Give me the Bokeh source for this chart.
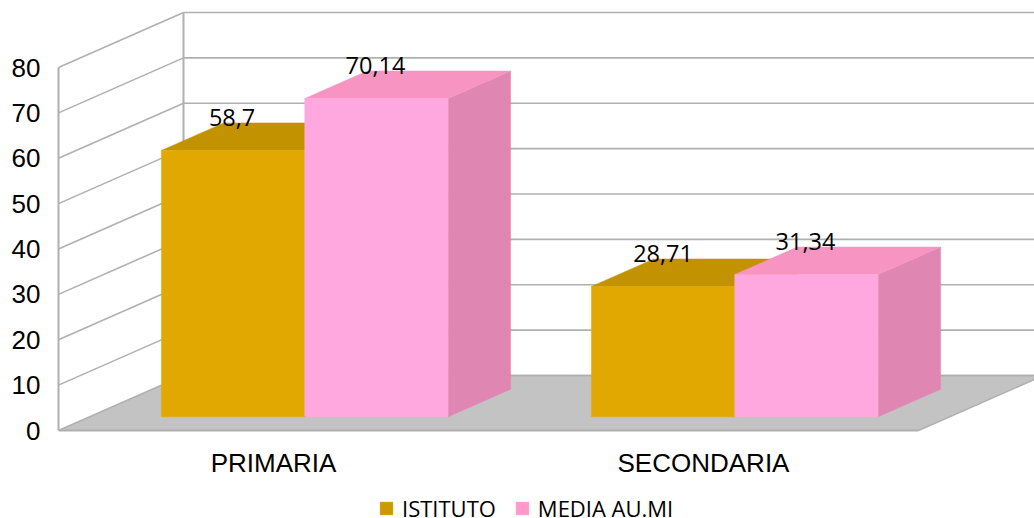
from bokeh.plotting import figure
from bokeh.models import Range1d, FixedTicker, Legend, LegendItem
from bokeh.core.properties import value
from bokeh.embed import file_html
from bokeh.resources import INLINE

categories = ["PRIMARIA", "SECONDARIA"]
series_names = ["ISTITUTO", "MEDIA AU.MI"]
istituto = [58.7, 28.71]
media = [70.14, 31.34]
label_texts = [["58,7", "28,71"], ["70,14", "31,34"]]
y_ticks = [0, 10, 20, 30, 40, 50, 60, 70, 80]

# style
front = ["#E0A800", "#FFA8E0"]
top_c = ["#C39200", "#F794C2"]
side_c = ["#A88000", "#E086B3"]
swatch = ["#CC9900", "#FF99CC"]
GRID = "#B0B0B0"
FLOOR = "#C3C3C3"
DX, DY = 125 / 430, 55 / 4.5375   # depth of the box, in data units
X_END = 976 / 430
Y_END = 430 / 4.5375
Y_START = -88 / 4.5375            # room below the floor for category labels and legend

p = figure(width=1034, height=518,
           output_backend="svg", toolbar_location=None,
           x_range=Range1d(0, X_END), y_range=Range1d(Y_START, Y_END),
           min_border_left=58, min_border_right=0, min_border_top=0, min_border_bottom=0,
           outline_line_color=None, background_fill_color=None, border_fill_color=None)
p.grid.visible = False

# y axis
ya = p.yaxis[0]
ya.ticker = FixedTicker(ticks=y_ticks)
ya.bounds = (0, 80)
ya.axis_line_color = GRID
ya.axis_line_width = 2
ya.major_tick_line_color = None
ya.minor_tick_line_color = None
ya.major_label_standoff = 12
ya.major_label_text_font = "Liberation Sans"
ya.major_label_text_font_size = "26px"
ya.major_label_text_color = "#000000"

# x axis, pinned to the value 0
xa = p.xaxis[0]
xa.fixed_location = 0
xa.ticker = FixedTicker(ticks=[0.5, 1.5])
xa.major_label_overrides = {0.5: categories[0], 1.5: categories[1]}
xa.bounds = (0, 2)
xa.axis_line_color = GRID
xa.axis_line_width = 2
xa.major_tick_line_color = None
xa.minor_tick_line_color = None
xa.major_label_standoff = 11
xa.major_label_text_font = "Liberation Sans"
xa.major_label_text_font_size = "26px"
xa.major_label_text_color = "#000000"

# floor
n = len(categories)
p.patch([0, n, n + DX, DX], [0, 0, DY, DY], fill_color=FLOOR, line_color=None)
p.line([DX, n + DX], [DY, DY], line_color=GRID, line_width=1.5)
p.line([n, n + DX], [0, DY], line_color=GRID, line_width=1.5)

# walls
for t in y_ticks:
    p.line([0, DX], [t, t + DY], line_color=GRID, line_width=1.6)
    p.line([DX, X_END], [t + DY, t + DY], line_color=GRID, line_width=1.6)
p.line([DX, DX], [DY, 80 + DY], line_color=GRID, line_width=2)

# bars
Z0, Z1 = 0.25, 0.75
BW = 1 / 3
lab_x, lab_y, lab_t = [], [], []
nudge = [[-1 / 430, 0 / 430], [-1 / 430, -1 / 430]]
for c in range(n):
    for s, vals in enumerate([istituto, media]):
        v = vals[c]
        x0 = c + 1 / 6 + s * BW + Z0 * DX
        x1 = x0 + BW
        y0 = Z0 * DY
        y1 = v + y0
        ddx = (Z1 - Z0) * DX
        ddy = (Z1 - Z0) * DY
        p.patch([x1, x1 + ddx, x1 + ddx, x1], [y0, y0 + ddy, y1 + ddy, y1],
                fill_color=side_c[s], line_color=side_c[s], line_width=0.5)
        p.patch([x0, x1, x1 + ddx, x0 + ddx], [y1, y1, y1 + ddy, y1 + ddy],
                fill_color=top_c[s], line_color=top_c[s], line_width=0.5)
        p.quad(left=x0, right=x1, bottom=y0, top=y1,
               fill_color=front[s], line_color=front[s], line_width=0.5)
        lab_x.append((x0 + x1) / 2 + nudge[s][c])
        lab_y.append(y1)
        lab_t.append(label_texts[s][c])

p.text(x=lab_x, y=lab_y, text=lab_t, text_align="center", text_baseline="middle",
       y_offset=-33, text_font=value("Open Sans"), text_font_size="23.5px", text_color="#000000")

# legend swatches (zero-height, legend only)
rs = []
for s in range(2):
    rs.append(p.quad(left=[0], right=[0], bottom=[0], top=[0],
                     fill_color=swatch[s], line_color=swatch[s], line_alpha=0.4))

items = [LegendItem(label=series_names[i], renderers=[rs[i]]) for i in range(2)]
legend = Legend(items=items, orientation="horizontal", location=(320, -5),
                background_fill_alpha=0, border_line_color=None,
                label_text_font="Open Sans", label_text_font_size="22px", label_text_color="#000000",
                glyph_width=16, glyph_height=16, spacing=18, padding=0, margin=0, label_standoff=8)
p.add_layout(legend, "center")

open("out.html", "w").write(file_html(p, INLINE))
